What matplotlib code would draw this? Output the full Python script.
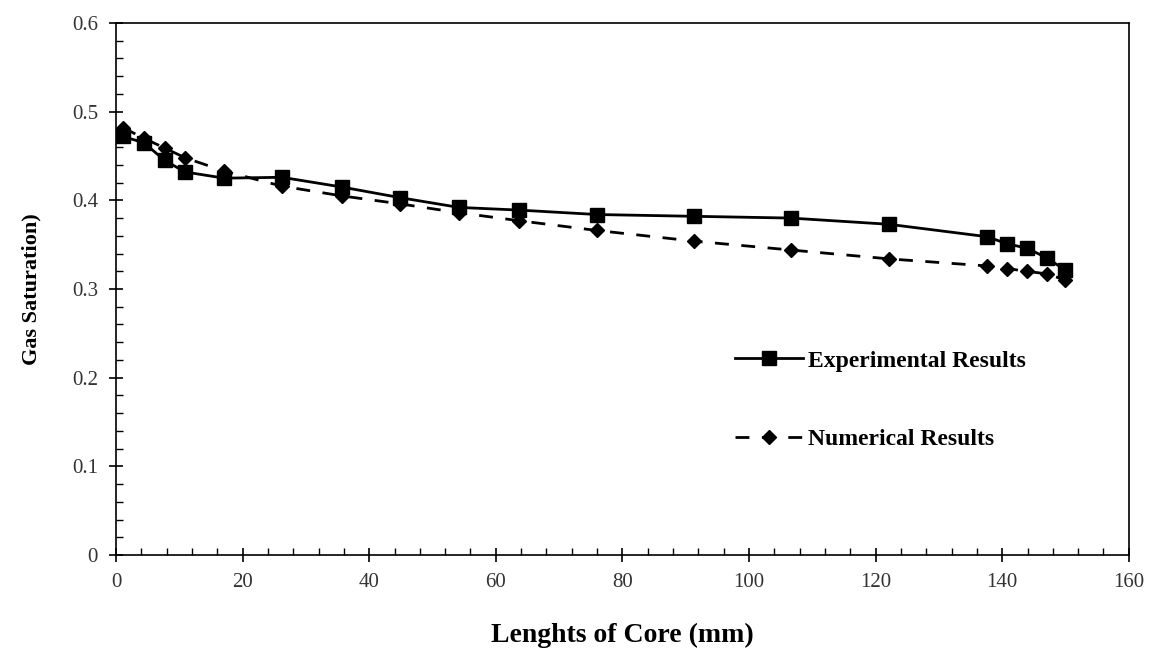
import matplotlib.pyplot as plt
from matplotlib.ticker import MultipleLocator

plt.rcParams["font.family"] = ["Liberation Serif", "DejaVu Serif"]

# experimental results
exp_x = [1.1, 4.4, 7.7, 10.9, 17.1, 26.2, 35.7, 44.9, 54.2, 63.7, 76.0, 91.3, 106.6, 122.1, 137.6, 140.8, 143.9, 147.1, 150.0]
exp_y = [0.472, 0.465, 0.445, 0.432, 0.425, 0.426, 0.415, 0.403, 0.392, 0.389, 0.384, 0.382, 0.380, 0.373, 0.359, 0.351, 0.346, 0.335, 0.321]

# numerical results
num_x = [1.1, 4.4, 7.7, 10.9, 17.1, 26.2, 35.7, 44.9, 54.2, 63.7, 76.0, 91.3, 106.6, 122.1, 137.6, 140.8, 143.9, 147.1, 150.0]
num_y = [0.482, 0.470, 0.459, 0.448, 0.433, 0.416, 0.405, 0.396, 0.386, 0.377, 0.366, 0.354, 0.344, 0.334, 0.326, 0.323, 0.320, 0.317, 0.310]

fig = plt.figure(figsize=(11.53, 6.48), dpi=100)
ax = fig.add_axes([0.1006, 0.1435, 0.8784, 0.821])

ax.plot(exp_x, exp_y, color="black", lw=2.0, marker="s", markersize=10,
        label="Experimental Results")
ax.plot(num_x, num_y, color="black", lw=2.0, dashes=(5, 4.5), marker="D", markersize=7,
        label="Numerical Results")

ax.set_xlim(0, 160)
ax.set_ylim(0, 0.6)
ax.xaxis.set_major_locator(MultipleLocator(20))
ax.xaxis.set_minor_locator(MultipleLocator(4))
ax.yaxis.set_major_locator(MultipleLocator(0.1))
ax.yaxis.set_minor_locator(MultipleLocator(0.02))
ax.set_yticks([0, 0.1, 0.2, 0.3, 0.4, 0.5, 0.6])
ax.set_yticklabels(["0", "0.1", "0.2", "0.3", "0.4", "0.5", "0.6"])
ax.tick_params(which="major", direction="inout", length=10, width=1.2, labelsize=15, pad=8,
               labelcolor="#333333")
ax.tick_params(which="minor", direction="in", length=5, width=1.0)
ax.tick_params(top=False, right=False)
for s in ax.spines.values():
    s.set_linewidth(1.2)

ax.set_xlabel("Lenghts of Core (mm)", fontsize=20, fontweight="bold", labelpad=22)
ax.set_ylabel("Gas Saturation)", fontsize=16, fontweight="bold", labelpad=22)

leg = ax.legend(loc="upper left", bbox_to_anchor=(0.59, 0.425), frameon=False,
                prop={"size": 17, "weight": "bold"}, labelspacing=2.4,
                handlelength=2.9, handletextpad=0.2)

plt.savefig("out.png", dpi=100)
